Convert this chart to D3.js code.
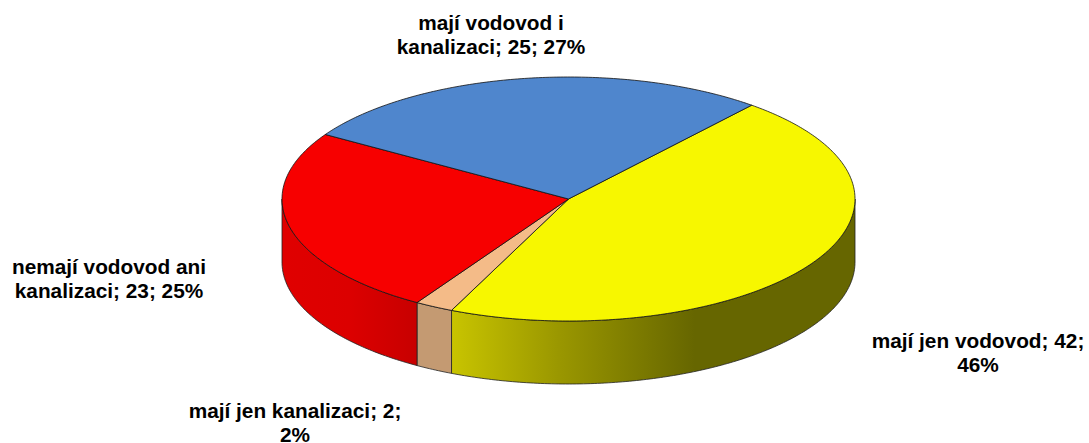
<!DOCTYPE html>
<html><head><meta charset="utf-8">
<style>html,body{margin:0;padding:0;background:#fff}svg{display:block}
text{font-family:"Liberation Sans",Arial,sans-serif;font-weight:bold;font-size:20.8px;fill:#000}</style>
<script src="https://cdn.jsdelivr.net/npm/d3@7/dist/d3.min.js"></script></head><body>
<script>
const categories=["mají jen vodovod","mají jen kanalizaci","nemají vodovod ani kanalizaci","mají vodovod i kanalizaci"];
const values=[42,2,23,25];
const topColors=["#f7f700","#f4bb88","#f70000","#4f86cd"];
const wallStops=[
 [[0,"#c8c400"],[0.44,"#9a9700"],[1,"#666600"]],
 [[0,"#c49a72"],[1,"#c49a72"]],
 [[0,"#e00000"],[0.5,"#dc0000"],[1,"#c80000"]],
 [[0,"#4f86cd"],[1,"#4f86cd"]]];
const labelLines=[
 {lines:["mají jen vodovod; 42;","46%"],x:978,y:348},
 {lines:["mají jen kanalizaci; 2;","2%"],x:295,y:418},
 {lines:["nemají vodovod ani","kanalizaci; 23; 25%"],x:109,y:274},
 {lines:["mají vodovod i","kanalizaci; 25; 27%"],x:491,y:30}];
const W=1089,H=443,cx=568.5,cy=199,rx=286.5,ry=122,depth=63;
const startDeg=39.75;
const svg=d3.select("body").append("svg").attr("width",W).attr("height",H);
const defs=svg.append("defs");
const pie=d3.pie().sort(null).startAngle(startDeg*Math.PI/180).endAngle((startDeg+360)*Math.PI/180);
const arcs=pie(values);
const px=a=>cx+rx*Math.sin(a), py=a=>cy-ry*Math.cos(a);
const line=d3.line().x(d=>d[0]).y(d=>d[1]);
const sample=(a0,a1)=>{const n=Math.max(2,Math.ceil((a1-a0)*80));return d3.range(n+1).map(i=>a0+(a1-a0)*i/n);};
const F=Math.PI/2,B=3*Math.PI/2;
const g=svg.append("g");
// walls
arcs.forEach((d,i)=>{
  const a0=Math.max(d.startAngle,F),a1=Math.min(d.endAngle,B);
  if(a1<=a0)return;
  const as=sample(a0,a1);
  const pts=as.map(a=>[px(a),py(a)]).concat(as.slice().reverse().map(a=>[px(a),py(a)+depth]));
  const xs=pts.map(p=>p[0]);
  const gid="w"+i;
  const lg=defs.append("linearGradient").attr("id",gid).attr("gradientUnits","userSpaceOnUse");
  if(i===0){ // yellow wall: bright at left, dark from about x=695
    lg.attr("x1",452).attr("x2",695).attr("y1",0).attr("y2",0);
  } else {
    const xa=d3.extent(xs);
    lg.attr("x1",xa[1]).attr("x2",xa[0]).attr("y1",0).attr("y2",0);
    if(i===2) lg.attr("x1",282).attr("x2",416);
  }
  wallStops[i].forEach(s=>lg.append("stop").attr("offset",s[0]).attr("stop-color",s[1]));
  g.append("path").attr("d",line(pts)+"Z").attr("fill",`url(#${gid})`)
   .attr("stroke","#222").attr("stroke-width",0.8).attr("stroke-linejoin","round");
});
// top
arcs.forEach((d,i)=>{
  const pts=[[cx,cy]].concat(sample(d.startAngle,d.endAngle).map(a=>[px(a),py(a)]));
  g.append("path").attr("d",line(pts)+"Z").attr("fill",topColors[i])
   .attr("stroke","#111").attr("stroke-width",0.8).attr("stroke-linejoin","round");
});
// labels
labelLines.forEach(l=>{
  const t=svg.append("text").attr("text-anchor","middle");
  l.lines.forEach((s,k)=>t.append("tspan").attr("x",l.x).attr("y",l.y+k*23.6).text(s));
});
</script></body></html>
